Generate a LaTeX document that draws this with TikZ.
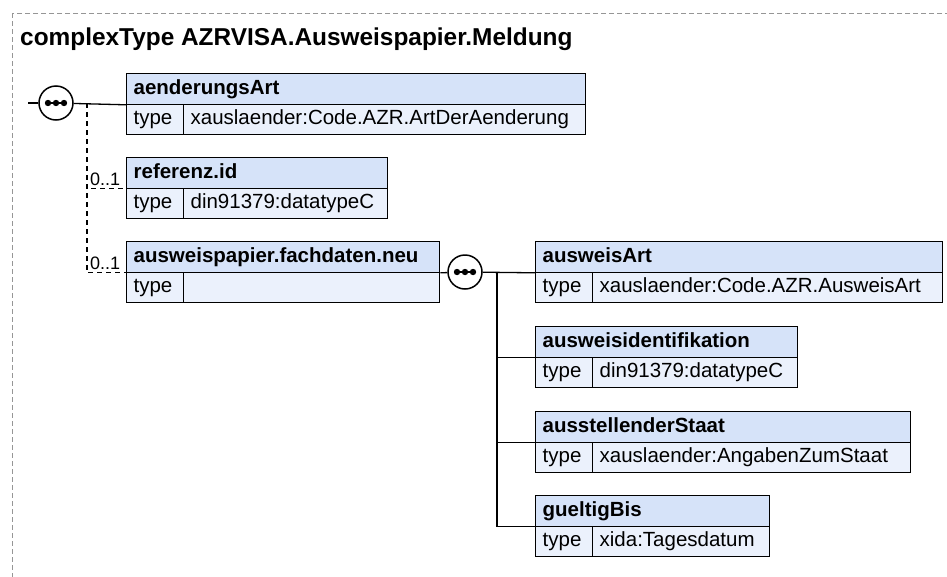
\documentclass[tikz,border=0pt]{standalone}
\usepackage{fontspec}
\setmainfont{Liberation Sans}
\usepackage{xcolor}
\usepackage{tikz}

\definecolor{headblue}{RGB}{214,227,249}
\definecolor{typeblue}{RGB}{235,241,252}
\definecolor{framegray}{RGB}{150,150,150}

\tikzset{
  cell/.style={draw=black,line width=1.3pt,anchor=north west,inner xsep=7pt,inner ysep=0pt,
    minimum height=30.5pt,text height=15pt,text depth=4.5pt,align=left},
  headcell/.style={cell,fill=headblue,font=\bfseries\fontsize{20.5}{24}\selectfont},
  typecell/.style={cell,fill=typeblue},
  seq/.style={circle,draw=black,fill=white,line width=1.5pt,minimum size=34pt,inner sep=0pt},
  conn/.style={line width=1.3pt},
  optconn/.style={line width=1.3pt,dash pattern=on 5pt off 4pt},
}

\begin{document}
\begin{tikzpicture}[x=1pt,y=-1pt,font=\fontsize{20.5}{24}\selectfont]
  \useasboundingbox (0,0) rectangle (947,576);
  \draw[framegray,line width=1pt,dash pattern=on 5pt off 3pt] (12,13) rectangle (990,620);
  \node[anchor=base west,inner sep=0pt,font=\bfseries\fontsize{24.4}{28}\selectfont] (title) at (20,45)
    {complexType AZRVISA.Ausweispapier.Meldung};

  % element boxes: name/left/top/right/header/type
  \foreach \nm/\lft/\tp/\rgt/\hd/\ty in {
      aend/126/73/585/aenderungsArt/xauslaender:Code.AZR.ArtDerAenderung,
      refz/126/157/387/referenz.id/din91379:datatypeC,
      fach/126/241/439/ausweispapier.fachdaten.neu/{},
      ausw/535/241/942/ausweisArt/xauslaender:Code.AZR.AusweisArt,
      ident/535/326/797/ausweisidentifikation/din91379:datatypeC,
      staat/535/411/910/ausstellenderStaat/xauslaender:AngabenZumStaat,
      gueltig/535/495/769/gueltigBis/xida:Tagesdatum}
  {
    \pgfmathsetmacro\hw{\rgt-\lft-14}
    \pgfmathsetmacro\vw{\rgt-\lft-57-14}
    \node[headcell,text width=\hw pt] (\nm) at (\lft,\tp) {\hd};
    \node[typecell,text width=43pt] (\nm-t) at (\lft,\tp+30.5) {type};
    \node[typecell,text width=\vw pt] (\nm-v) at (\lft+57,\tp+30.5) {\ty};
  }

  % top sequence
  \node[seq] (seqA) at (56,103) {};
  \coordinate (inA) at (28,103);
  \coordinate (brA) at (87,103);
  \draw[conn] (inA) -- (seqA);
  \draw[conn] (seqA) -- (aend.south west);
  \draw[optconn] (brA) |- (refz.south west);
  \draw[optconn] (brA) |- (fach.south west);
  \node[anchor=base west,inner sep=0pt,font=\fontsize{18}{20}\selectfont] (multR) at (90,185) {0..1};
  \node[anchor=base west,inner sep=0pt,font=\fontsize{18}{20}\selectfont] (multF) at (90,269) {0..1};

  % inner sequence
  \node[seq] (seqB) at (465,272) {};
  \coordinate (brB) at (497,272);
  \draw[conn] (fach.south east) -- (seqB);
  \draw[conn] (seqB) -- (ausw.south west);
  \foreach \nm in {ident,staat,gueltig}
    \draw[conn] (brB) |- (\nm.south west);

  % sequence dots
  \foreach \s in {seqA,seqB} {
    \draw[line width=1.2pt] ([xshift=-10pt]\s.center) -- ([xshift=10pt]\s.center);
    \foreach \dotx in {-8,0,8}
      \fill ([xshift=\dotx pt]\s.center) circle (3.2);
  }
\end{tikzpicture}
\end{document}
